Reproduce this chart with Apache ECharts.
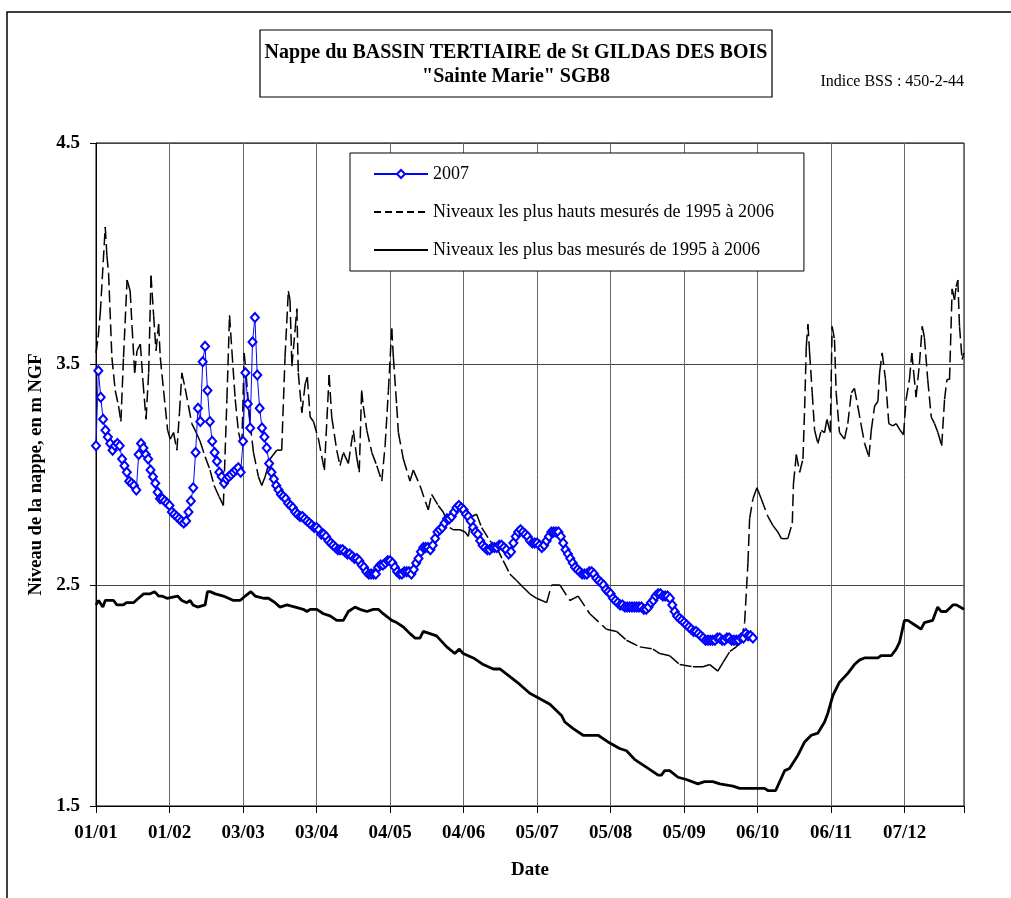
<!DOCTYPE html>
<html>
<head>
<meta charset="utf-8">
<script src="https://cdn.jsdelivr.net/npm/echarts@6/dist/echarts.min.js"></script>
<style>
  html, body { margin: 0; padding: 0; background: #fff; }
  #chart { width: 1011px; height: 898px; }
</style>
</head>
<body>
<div id="chart"></div>
<script>
/* Piezometric level, St Gildas des Bois (SGB8): 2007 vs. 1995-2006 highs and lows.
   x is the day of the year (0 = 01/01), ticks every 31 days like the original chart. */

const xTickLabels = ['01/01', '01/02', '03/03', '03/04', '04/05', '04/06', '05/07', '05/08', '05/09', '06/10', '06/11', '07/12'];

// 2007 measurements, one per day starting 01/01
const lvl2007 = [
  3.13, 3.47, 3.35, 3.25, 3.20, 3.17, 3.14, 3.11, 3.13, 3.14,
  3.13, 3.07, 3.04, 3.01, 2.97, 2.96, 2.95, 2.93, 3.09, 3.14,
  3.12, 3.09, 3.07, 3.02, 2.99, 2.96, 2.92, 2.89, 2.89, 2.88,
  2.87, 2.86, 2.83, 2.82, 2.81, 2.80, 2.79, 2.78, 2.79, 2.83,
  2.88, 2.94, 3.10, 3.30, 3.24, 3.51, 3.58, 3.38, 3.24, 3.15,
  3.10, 3.06, 3.01, 2.99, 2.96, 2.98, 2.99, 3.00, 3.01, 3.02,
  3.03, 3.01, 3.15, 3.46, 3.32, 3.21, 3.60, 3.71, 3.45, 3.30,
  3.21, 3.17, 3.12, 3.05, 3.01, 2.98, 2.95, 2.93, 2.91, 2.90,
  2.89, 2.87, 2.86, 2.85, 2.83, 2.82, 2.81, 2.81, 2.80, 2.79,
  2.78, 2.77, 2.76, 2.76, 2.75, 2.73, 2.73, 2.72, 2.70, 2.69,
  2.68, 2.67, 2.66, 2.66, 2.66, 2.65, 2.64, 2.64, 2.63, 2.62,
  2.62, 2.61, 2.59, 2.58, 2.56, 2.55, 2.55, 2.55, 2.55, 2.58,
  2.59, 2.59, 2.60, 2.61, 2.61, 2.60, 2.58, 2.56, 2.55, 2.55,
  2.56, 2.56, 2.56, 2.55, 2.57, 2.60, 2.62, 2.65, 2.67, 2.67,
  2.67, 2.66, 2.68, 2.71, 2.74, 2.75, 2.76, 2.78, 2.80, 2.80,
  2.81, 2.83, 2.85, 2.86, 2.85, 2.84, 2.82, 2.81, 2.79, 2.76,
  2.74, 2.73, 2.70, 2.68, 2.67, 2.66, 2.66, 2.67, 2.67, 2.67,
  2.68, 2.68, 2.67, 2.66, 2.64, 2.65, 2.69, 2.72, 2.74, 2.75,
  2.74, 2.73, 2.72, 2.70, 2.69, 2.69, 2.69, 2.68, 2.67, 2.68,
  2.70, 2.72, 2.74, 2.74, 2.74, 2.74, 2.72, 2.69, 2.66, 2.64,
  2.62, 2.60, 2.58, 2.57, 2.56, 2.55, 2.55, 2.55, 2.56, 2.56,
  2.55, 2.53, 2.52, 2.51, 2.50, 2.48, 2.47, 2.46, 2.44, 2.43,
  2.42, 2.41, 2.41, 2.40, 2.40, 2.40, 2.40, 2.40, 2.40, 2.40,
  2.40, 2.39, 2.39, 2.40, 2.42, 2.43, 2.45, 2.46, 2.46, 2.45,
  2.45, 2.45, 2.44, 2.41, 2.38, 2.36, 2.35, 2.34, 2.33, 2.32,
  2.31, 2.30, 2.29, 2.29, 2.28, 2.27, 2.26, 2.25, 2.25, 2.25,
  2.25, 2.25, 2.26, 2.26, 2.25, 2.25, 2.26, 2.26, 2.25, 2.25,
  2.25, 2.25, 2.26, 2.26, 2.28, 2.27, 2.27, 2.26
];

// highest levels 1995-2006
const highDays = [
  0, 0.9, 1.8, 3.9, 4.6, 5.3, 6.7, 8.1, 9.5, 10.5,
  11.6, 13.1, 14.4, 15.2, 16.3, 17.3, 18.7, 19.8, 21.1, 22.2,
  23.2, 24.3, 25.3, 26.4, 27.1, 28.5, 30.2, 31.3, 32.7, 34.1,
  35.2, 36.2, 37.6, 39.0, 40.4, 41.8, 43.9, 46.0, 48.1, 49.8,
  51.9, 53.7, 55.2, 56.3, 57.3, 58.7, 60.1, 61.5, 62.5, 63.3,
  65.0, 66.4, 68.5, 69.9, 71.3, 73.4, 76.2, 78.3, 79.7, 81.1,
  81.8, 82.6, 84.0, 84.7, 85.3, 86.8, 88.2, 89.1, 90.3, 91.7,
  93.8, 96.3, 98.3, 99.4, 101.5, 102.9, 104.3, 106.4, 108.5, 109.9,
  111.0, 112.0, 112.7, 114.2, 116.3, 118.4, 120.5, 121.9, 123.3, 124.7,
  125.4, 126.8, 127.5, 129.6, 132.4, 133.8, 136.6, 140.1, 141.5, 144.3,
  146.4, 149.2, 150.6, 153.5, 155.6, 157.0, 158.4, 160.5, 162.6, 166.1,
  168.9, 171.7, 174.5, 177.3, 180.1, 182.9, 185.8, 190.0, 192.1, 195.6,
  199.8, 203.3, 208.2, 215.2, 219.5, 223.7, 229.3, 234.9, 237.7, 241.9,
  246.1, 251.7, 256.0, 258.8, 262.2, 264.4, 267.3, 270.0, 272.1, 273.5,
  274.9, 275.6, 277.0, 278.7, 280.5, 283.3, 285.4, 287.5, 289.0, 291.7,
  293.6, 294.1, 295.3, 296.7, 298.1, 298.8, 299.5, 300.2, 300.9, 302.0,
  303.0, 304.4, 305.8, 307.2, 308.2, 309.6, 310.4, 311.4, 312.1, 313.5,
  315.6, 317.0, 318.5, 319.8, 321.2, 322.7, 324.1, 325.9, 326.9, 328.3,
  329.7, 330.4, 331.5, 332.9, 334.3, 336.0, 337.4, 339.1, 340.5, 341.6,
  343.0, 344.0, 344.8, 345.8, 347.2, 348.4, 349.3, 350.7, 352.2, 353.6,
  355.0, 356.6, 357.8, 358.8, 359.9, 361.0, 362.0, 362.7, 363.4, 364.1,
  365.2, 366
];
const highVals = [
  3.55, 3.62, 3.73, 4.12, 3.99, 3.91, 3.53, 3.38, 3.31, 3.24,
  3.53, 3.88, 3.83, 3.67, 3.46, 3.56, 3.59, 3.42, 3.25, 3.46,
  3.90, 3.72, 3.56, 3.68, 3.53, 3.38, 3.20, 3.16, 3.19, 3.11,
  3.28, 3.46, 3.39, 3.31, 3.23, 3.20, 3.15, 3.08, 3.02, 2.95,
  2.90, 2.86, 3.34, 3.72, 3.56, 3.34, 3.19, 3.13, 3.55, 3.45,
  3.23, 3.10, 2.99, 2.95, 2.99, 3.07, 3.11, 3.11, 3.53, 3.83,
  3.79, 3.49, 3.66, 3.75, 3.46, 3.28, 3.41, 3.44, 3.26, 3.24,
  3.16, 3.02, 3.45, 3.26, 3.11, 3.04, 3.10, 3.05, 3.20, 3.08,
  3.01, 3.38, 3.31, 3.20, 3.10, 3.04, 2.97, 3.13, 3.38, 3.66,
  3.53, 3.31, 3.19, 3.07, 2.97, 3.02, 2.95, 2.84, 2.91, 2.86,
  2.83, 2.76, 2.75, 2.75, 2.74, 2.72, 2.81, 2.82, 2.76, 2.70,
  2.67, 2.61, 2.55, 2.52, 2.49, 2.46, 2.44, 2.42, 2.50, 2.50,
  2.43, 2.45, 2.37, 2.30, 2.29, 2.25, 2.22, 2.21, 2.19, 2.18,
  2.14, 2.13, 2.13, 2.14, 2.11, 2.15, 2.20, 2.22, 2.25, 2.33,
  2.60, 2.80, 2.89, 2.94, 2.89, 2.81, 2.77, 2.74, 2.71, 2.71,
  2.78, 2.96, 3.09, 3.01, 3.07, 3.30, 3.58, 3.68, 3.55, 3.37,
  3.20, 3.14, 3.20, 3.19, 3.25, 3.19, 3.67, 3.61, 3.37, 3.19,
  3.16, 3.23, 3.37, 3.39, 3.31, 3.22, 3.14, 3.08, 3.20, 3.31,
  3.33, 3.46, 3.55, 3.43, 3.23, 3.22, 3.23, 3.20, 3.18, 3.34,
  3.43, 3.55, 3.46, 3.35, 3.50, 3.67, 3.62, 3.43, 3.26, 3.23,
  3.19, 3.13, 3.34, 3.43, 3.43, 3.84, 3.79, 3.85, 3.88, 3.67,
  3.52, 3.55
];

// lowest levels 1995-2006
const lowDays = [
  0, 1.1, 2.9, 3.9, 7.4, 8.8, 11.6, 12.8, 15.8, 17.9,
  20.1, 22.9, 24.7, 26.4, 27.8, 29.9, 34.4, 36.2, 38.3, 39.7,
  40.9, 42.8, 46.0, 47.0, 48.1, 50.3, 53.7, 58.0, 60.8, 62.9,
  65.3, 67.1, 70.6, 72.7, 75.5, 77.6, 80.5, 84.0, 87.4, 88.9,
  90.3, 93.1, 95.9, 98.7, 101.5, 104.3, 106.4, 109.2, 111.3, 114.2,
  116.9, 119.0, 121.1, 124.7, 126.8, 129.6, 132.4, 134.5, 136.6, 138.0,
  140.8, 143.6, 147.9, 151.3, 153.2, 154.8, 159.1, 163.3, 167.5, 170.3,
  175.2, 178.7, 182.9, 186.4, 191.4, 196.3, 197.7, 201.2, 205.4, 211.7,
  215.9, 220.8, 223.7, 227.2, 232.8, 237.0, 238.4, 239.8, 241.9, 245.4,
  248.9, 253.8, 256.6, 260.1, 263.0, 268.6, 271.4, 277.0, 281.9, 283.3,
  286.6, 290.4, 292.4, 296.0, 298.8, 301.6, 304.4, 307.2, 308.6, 310.7,
  313.5, 317.0, 319.8, 321.9, 324.0, 329.7, 331.0, 335.3, 337.4, 338.8,
  340.9, 342.3, 345.1, 347.9, 349.3, 352.8, 354.9, 356.4, 358.5, 361.3,
  362.8, 366
];
const lowVals = [
  2.41, 2.43, 2.40, 2.43, 2.43, 2.41, 2.41, 2.42, 2.42, 2.44,
  2.46, 2.46, 2.47, 2.45, 2.45, 2.44, 2.45, 2.43, 2.42, 2.43,
  2.41, 2.40, 2.41, 2.47, 2.47, 2.46, 2.45, 2.43, 2.43, 2.45,
  2.47, 2.45, 2.44, 2.44, 2.42, 2.40, 2.41, 2.40, 2.39, 2.38,
  2.39, 2.39, 2.37, 2.36, 2.34, 2.34, 2.38, 2.40, 2.39, 2.38,
  2.39, 2.39, 2.37, 2.34, 2.33, 2.31, 2.28, 2.26, 2.26, 2.29,
  2.28, 2.27, 2.22, 2.19, 2.21, 2.19, 2.17, 2.14, 2.12, 2.12,
  2.08, 2.05, 2.01, 1.99, 1.96, 1.91, 1.88, 1.85, 1.82, 1.82,
  1.79, 1.76, 1.75, 1.71, 1.67, 1.64, 1.64, 1.66, 1.66, 1.63,
  1.62, 1.60, 1.61, 1.61, 1.60, 1.59, 1.58, 1.58, 1.58, 1.57,
  1.57, 1.66, 1.67, 1.73, 1.79, 1.82, 1.83, 1.88, 1.92, 2.00,
  2.06, 2.10, 2.14, 2.16, 2.17, 2.17, 2.18, 2.18, 2.21, 2.24,
  2.34, 2.34, 2.32, 2.30, 2.33, 2.34, 2.40, 2.38, 2.38, 2.41,
  2.41, 2.39
];

const NAME_2007 = '2007';
const NAME_HIGH = 'Niveaux les plus hauts mesurés de 1995 à 2006';
const NAME_LOW = 'Niveaux les plus bas mesurés de 1995 à 2006';
const SERIF = '"Liberation Serif", "Times New Roman", serif';
const DASH = [12, 5];

const chart = echarts.init(document.getElementById('chart'));

// each segment of the "highs" line restarts its dash, as Excel does:
// short daily steps read as a thin solid line, steep ones show the dashes
function renderHighSegment(params, api) {
  const i = params.dataIndex;
  if (i >= highDays.length - 1) return null;
  const p0 = api.coord([highDays[i], highVals[i]]);
  const p1 = api.coord([highDays[i + 1], highVals[i + 1]]);
  return {
    type: 'line',
    shape: { x1: p0[0], y1: p0[1], x2: p1[0], y2: p1[1] },
    style: { stroke: '#000', lineWidth: 1.5, lineDash: DASH }
  };
}

chart.setOption({
  animation: false,
  textStyle: { fontFamily: SERIF },
  grid: { left: 96, top: 143, width: 868, height: 663, show: true, borderColor: '#000', borderWidth: 1 },
  legend: {
    orient: 'vertical', left: 350, top: 153,
    data: [
      { name: NAME_2007 },
      { name: NAME_HIGH, itemStyle: { opacity: 0 } },
      { name: NAME_LOW, itemStyle: { opacity: 0 } }
    ],
    itemWidth: 54, itemHeight: 10, itemGap: 20,
    padding: [12, 30, 12, 23],
    backgroundColor: '#fff', borderColor: '#000', borderWidth: 1,
    selectedMode: false,
    textStyle: { fontFamily: SERIF, fontSize: 18, lineHeight: 18, color: '#000' }
  },
  xAxis: {
    type: 'value', min: 0, max: 366, interval: 31,
    name: 'Date', nameLocation: 'middle', nameGap: 55,
    nameTextStyle: { fontFamily: SERIF, fontSize: 19, fontWeight: 'bold', color: '#000' },
    axisLine: { lineStyle: { color: '#000', width: 1 } },
    axisTick: { length: 7, lineStyle: { color: '#000' } },
    axisLabel: {
      margin: 18, fontFamily: SERIF, fontSize: 19, fontWeight: 'bold', color: '#000',
      formatter: v => (v % 31 === 0 ? xTickLabels[v / 31] : '')
    },
    splitLine: { show: true, lineStyle: { color: '#666', width: 1 } }
  },
  yAxis: {
    type: 'value', min: 1.5, max: 4.5, interval: 1,
    name: 'Niveau de la nappe, en m NGF', nameLocation: 'middle', nameGap: 49,
    nameTextStyle: { fontFamily: SERIF, fontSize: 18.5, fontWeight: 'bold', color: '#000' },
    axisLine: { show: true, lineStyle: { color: '#000', width: 1 } },
    axisTick: { show: true, length: 6, lineStyle: { color: '#000' } },
    axisLabel: {
      margin: 16, fontFamily: SERIF, fontSize: 19, fontWeight: 'bold', color: '#000',
      formatter: v => v.toFixed(1)
    },
    splitLine: { show: true, lineStyle: { color: '#444', width: 1 } }
  },
  series: [
    {
      name: NAME_LOW, type: 'line', z: 2,
      data: lowDays.map((d, i) => [d, lowVals[i]]),
      symbol: 'none', lineStyle: { color: '#000', width: 2.8 }, itemStyle: { color: '#000' }
    },
    {
      name: 'highSegments', type: 'custom', z: 3, silent: true,
      data: highDays.map((d, i) => [d, highVals[i]]),
      encode: { x: 0, y: 1 },
      renderItem: renderHighSegment
    },
    {
      // legend entry only for the dashed "highs" line
      name: NAME_HIGH, type: 'line', data: [],
      symbol: 'none', lineStyle: { color: '#000', width: 1.5, type: [7, 4] }, itemStyle: { color: '#000' }
    },
    {
      name: NAME_2007, type: 'line', z: 5,
      data: lvl2007.map((v, i) => [i, v]),
      symbol: 'emptyDiamond', symbolSize: [8, 9], showAllSymbol: true,
      lineStyle: { color: '#0000ff', width: 1 },
      itemStyle: { color: '#0000ff', borderColor: '#0000ff', borderWidth: 1 }
    }
  ],
  graphic: [
    { type: 'rect', shape: { x: 7, y: 12, width: 1030, height: 920 },
      style: { fill: 'none', stroke: '#000', lineWidth: 1.5 }, silent: true },
    { type: 'rect', shape: { x: 260, y: 30, width: 512, height: 67 },
      style: { fill: '#fff', stroke: '#000', lineWidth: 1.2 }, silent: true },
    { type: 'text', x: 516, y: 53,
      style: { text: 'Nappe du BASSIN TERTIAIRE de St GILDAS DES BOIS', align: 'center', verticalAlign: 'middle',
               fontFamily: SERIF, fontSize: 20, fontWeight: 'bold', fill: '#000' } },
    { type: 'text', x: 516, y: 77,
      style: { text: '"Sainte Marie" SGB8', align: 'center', verticalAlign: 'middle',
               fontFamily: SERIF, fontSize: 20, fontWeight: 'bold', fill: '#000' } },
    { type: 'text', x: 964, y: 82,
      style: { text: 'Indice BSS : 450-2-44', align: 'right', verticalAlign: 'middle',
               fontFamily: SERIF, fontSize: 16, fill: '#000' } }
  ]
});
</script>
</body>
</html>
